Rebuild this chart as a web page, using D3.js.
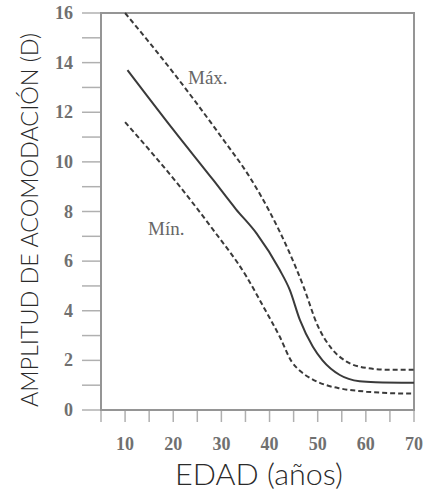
<!DOCTYPE html>
<html>
<head>
<meta charset="utf-8">
<script src="https://cdn.jsdelivr.net/npm/d3@7"></script>
<style>
  html, body { margin: 0; padding: 0; background: #fff; }
  svg { display: block; }
</style>
</head>
<body>
<svg id="chart" width="431" height="491"></svg>
<script>
// Amplitude of accommodation (dioptres) by age: maximum, mean and minimum curves
const maxAges  = [10, 20, 30, 36, 40, 44, 47, 50, 53, 56, 60, 65, 70];
const maxVals  = [16, 13.6, 11.0, 9.35, 8.0, 6.4, 5.0, 3.4, 2.45, 1.95, 1.7, 1.62, 1.62];

const meanAges = [10.5, 20, 28.3, 33, 37.3, 42.1, 44.2, 46.3, 49, 51, 54.6, 58.7, 62, 70];
const meanVals = [13.7, 11.3, 9.27, 8.1, 7.12, 5.65, 4.84, 3.63, 2.55, 2.0, 1.41, 1.16, 1.12, 1.1];

const minAges  = [10, 21.4, 28.3, 35.2, 38.7, 42.1, 44.6, 46.5, 48.5, 51.8, 54.6, 60.1, 65, 70];
const minVals  = [11.6, 9.0, 7.26, 5.38, 4.17, 2.96, 1.95, 1.55, 1.28, 1.0, 0.87, 0.74, 0.68, 0.66];

const xTickLabels = [10, 20, 30, 40, 50, 60, 70];
const yTickLabels = [0, 2, 4, 6, 8, 10, 12, 14, 16];

const svg = d3.select("#chart");
const plotLeft = 101, plotRight = 414, plotTop = 13, plotBottom = 410;

const x = d3.scaleLinear().domain([5, 70]).range([plotLeft, plotRight]);
const y = d3.scaleLinear().domain([0, 16]).range([plotBottom, plotTop]);

const frameColor = "#959595";
const tickColor = "#b0b0b0";
const labelColor = "#707070";

// minor/major ticks on the y axis (every dioptre), drawn outward
svg.append("g").selectAll("line")
  .data(d3.range(0, 17))
  .join("line")
  .attr("x1", 82).attr("x2", plotLeft)
  .attr("y1", d => y(d)).attr("y2", d => y(d))
  .attr("stroke", tickColor).attr("stroke-width", 1.5);

// ticks on the x axis every 5 years, drawn downward
svg.append("g").selectAll("line")
  .data(d3.range(5, 71, 5))
  .join("line")
  .attr("x1", d => x(d)).attr("x2", d => x(d))
  .attr("y1", plotBottom).attr("y2", plotBottom + 12)
  .attr("stroke", tickColor).attr("stroke-width", 1.5);

// plot frame
svg.append("rect")
  .attr("x", plotLeft).attr("y", plotTop)
  .attr("width", plotRight - plotLeft).attr("height", plotBottom - plotTop)
  .attr("fill", "none").attr("stroke", frameColor).attr("stroke-width", 2);

// tick labels
svg.append("g").selectAll("text")
  .data(yTickLabels)
  .join("text")
  .attr("x", 73).attr("y", d => y(d) + 6)
  .attr("text-anchor", "end")
  .attr("font-family", "Liberation Serif, serif")
  .attr("font-weight", "bold")
  .attr("font-size", 18)
  .attr("fill", labelColor)
  .text(d => d);

svg.append("g").selectAll("text")
  .data(xTickLabels)
  .join("text")
  .attr("x", d => x(d)).attr("y", 450)
  .attr("text-anchor", "middle")
  .attr("font-family", "Liberation Serif, serif")
  .attr("font-weight", "bold")
  .attr("font-size", 18)
  .attr("fill", labelColor)
  .text(d => d);

// curves
const line = d3.line()
  .x(d => x(d[0]))
  .y(d => y(d[1]))
  .curve(d3.curveMonotoneX);

const series = [
  { ages: maxAges, vals: maxVals, dash: "5,3" },
  { ages: meanAges, vals: meanVals, dash: null },
  { ages: minAges, vals: minVals, dash: "5,3" }
];

svg.append("g").selectAll("path")
  .data(series)
  .join("path")
  .attr("d", s => line(s.ages.map((a, i) => [a, s.vals[i]])))
  .attr("fill", "none")
  .attr("stroke", "#3a3a3a")
  .attr("stroke-width", 2)
  .attr("stroke-dasharray", s => s.dash);

// curve annotations
svg.append("text")
  .attr("x", 188).attr("y", 84)
  .attr("font-family", "Liberation Serif, serif")
  .attr("font-size", 19)
  .attr("fill", "#666")
  .text("Máx.");

svg.append("text")
  .attr("x", 148).attr("y", 235)
  .attr("font-family", "Liberation Serif, serif")
  .attr("font-size", 19)
  .attr("fill", "#666")
  .text("Mín.");

// axis titles; font size is fitted so the natural width meets the target length
function fitTitle(sel, baseSize, target) {
  sel.attr("font-size", baseSize);
  const natural = sel.node().getComputedTextLength();
  if (natural > target) sel.attr("font-size", baseSize * target / natural);
  sel.attr("textLength", target).attr("lengthAdjust", "spacingAndGlyphs");
}

const xTitle = svg.append("text")
  .attr("x", 259).attr("y", 485)
  .attr("text-anchor", "middle")
  .attr("font-family", "Lato, sans-serif")
  .attr("font-weight", 300)
  .attr("fill", "#2a2a2a")
  .text("EDAD (años)");
fitTitle(xTitle, 29, 168);

const yTitle = svg.append("text")
  .attr("transform", "translate(38,220) rotate(-90)")
  .attr("text-anchor", "middle")
  .attr("font-family", "Lato, sans-serif")
  .attr("font-weight", 300)
  .attr("fill", "#2a2a2a")
  .text("AMPLITUD DE ACOMODACIÓN (D)");
fitTitle(yTitle, 27, 374);
</script>
</body>
</html>
